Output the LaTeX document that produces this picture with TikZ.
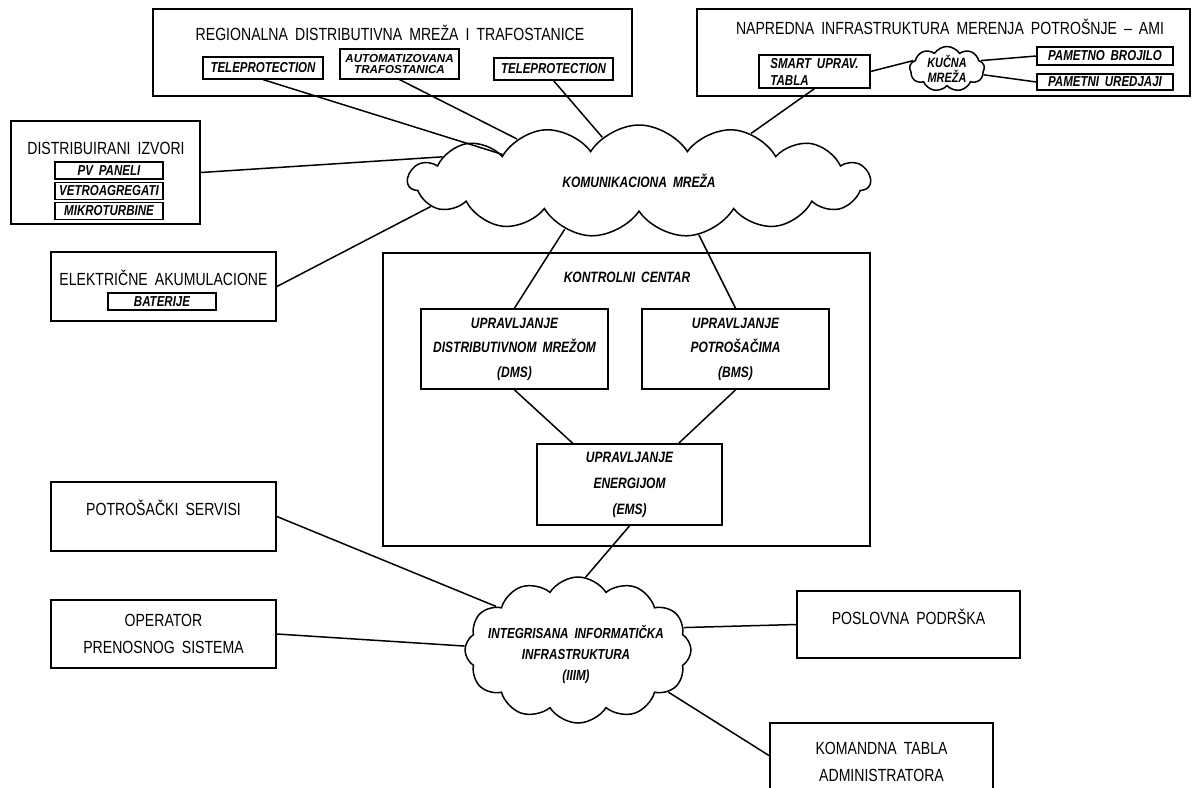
\documentclass[tikz,border=0pt]{standalone}
\usepackage{fontspec}
\setmainfont{Liberation Sans}[FakeStretch=0.8,WordSpace=1.8]
\usetikzlibrary{
	shapes.symbols,
	positioning
	}
\tikzset{font={\fontsize{8.8pt}{13.5}\selectfont}}
\tikzset{
	box/.style={draw, line width=0.9pt, inner sep=0pt},
	subbox/.style={draw, line width=0.6pt, inner sep=0pt, font={\fontsize{7.2pt}{7}\selectfont\bfseries\itshape}},
	net/.style={cloud, draw, line width=0.75pt, cloud ignores aspect, cloud puff arc=115, inner sep=0pt},
	lbl/.style={align=center, font={\fontsize{7.5pt}{12.25}\selectfont\bfseries\itshape}},
	link/.style={line width=0.75pt}
	}

\begin{document}
\begin{tikzpicture}[x=0.5pt, y=-0.5pt]
                \useasboundingbox (0,0) rectangle (1192,787);
                % regionalna mreza
                \node (reg) [box, minimum width=239.5pt, minimum height=43.5pt] at (392.5,52.5) {};
                \node (regt) at (390,33) {REGIONALNA DISTRIBUTIVNA MREŽA I TRAFOSTANICE};
                \node (tp1) [subbox, minimum width=60pt, minimum height=11pt] at (263,68) {TELEPROTECTION};
                \node (ats) [subbox, minimum width=59.5pt, minimum height=15pt, align=center, font={\fontsize{5.8pt}{5.6}\selectfont\bfseries\itshape}] at (399.5,64) {\scalebox{1.25}[1]{AUTOMATIZOVANA}\\\scalebox{1.25}[1]{TRAFOSTANICA}};
                \node (tp2) [subbox, minimum width=59.5pt, minimum height=11pt] at (553.5,69) {TELEPROTECTION};
                % AMI
                \node (ami) [box, minimum width=246.5pt, minimum height=43.5pt] at (943.5,52.5) {};
                \node (amit) at (950,27) {NAPREDNA INFRASTRUKTURA MERENJA POTROŠNJE -- AMI};
                \node (smart) [subbox, minimum width=55.5pt, minimum height=16.5pt, align=left, font={\fontsize{7.2pt}{8.5}\selectfont\bfseries\itshape}] at (814.5,71.5) {SMART UPRAV.\\TABLA};
                \node (kucna) [net, minimum width=37.5pt, minimum height=22.5pt, cloud puffs=9] at (947,69) {};
                \node (kucnat) [align=center, font={\fontsize{6.8pt}{7.5}\selectfont\bfseries\itshape}] at (kucna) {KUČNA\\MREŽA};
                \node (brojilo) [subbox, minimum width=68pt, minimum height=9pt] at (1105,56) {PAMETNO BROJILO};
                \node (uredjaji) [subbox, minimum width=68pt, minimum height=8pt] at (1105,82) {PAMETNI UREDJAJI};
                % izvori
                \node (dist) [box, minimum width=94.5pt, minimum height=51.5pt] at (105.5,172.5) {};
                \node (distt) at (106,148) {DISTRIBUIRANI IZVORI};
                \node (pv) [subbox, minimum width=54pt, minimum height=8.5pt] at (109,170.5) {PV PANELI};
                \node (vetro) [subbox, minimum width=54pt, minimum height=8.5pt, below=1pt of pv] {VETROAGREGATI};
                \node (mikro) [subbox, minimum width=54pt, minimum height=8.5pt, below=1pt of vetro] {MIKROTURBINE};
                \node (ele) [box, minimum width=112.5pt, minimum height=34.5pt] at (163.5,286.5) {};
                \node (elet) at (163.5,278) {ELEKTRIČNE AKUMULACIONE};
                \node (bat) [subbox, minimum width=54pt, minimum height=8.5pt] at (162,301.5) {BATERIJE};
                % komunikaciona mreza
                \node (kom) [net, lbl, minimum width=231pt, minimum height=56pt, cloud puffs=15] at (639,181) {KOMUNIKACIONA MREŽA};
                % kontrolni centar
                \node (kc) [box, minimum width=243.5pt, minimum height=146.5pt] at (626.5,399.5) {};
                \node (kct) [lbl] at (627,277) {KONTROLNI CENTAR};
                \node (dms) [box, lbl, minimum width=93.5pt, minimum height=40pt] at (514.5,349) {UPRAVLJANJE\\DISTRIBUTIVNOM MREŽOM\\(DMS)};
                \node (bms) [box, lbl, minimum width=93.5pt, minimum height=40pt] at (735.5,349) {UPRAVLJANJE\\POTROŠAČIMA\\(BMS)};
                \node (ems) [box, lbl, minimum width=92.5pt, minimum height=40.5pt, font={\fontsize{7.5pt}{13}\selectfont\bfseries\itshape}] at (629.5,484.5) {UPRAVLJANJE\\ENERGIJOM\\(EMS)};
                % IIIM
                \node (iiim) [net, minimum width=113pt, minimum height=73pt, cloud puffs=12] at (578,650) {};
                \node (iiimt) [lbl, font={\fontsize{7.3pt}{10.5}\selectfont\bfseries\itshape}] at (576,654) {INTEGRISANA INFORMATIČKA\\INFRASTRUKTURA\\(IIIM)};
                \node (pot) [box, minimum width=112.5pt, minimum height=34.5pt] at (163.5,516.5) {};
                \node (pott) at (163.5,508) {POTROŠAČKI SERVISI};
                \node (op) [box, align=center, minimum width=112.5pt, minimum height=34pt] at (163.5,634) {OPERATOR\\PRENOSNOG SISTEMA};
                \node (pos) [box, minimum width=111.5pt, minimum height=33.5pt] at (908.5,624.5) {};
                \node (post) at (908.5,617) {POSLOVNA PODRŠKA};
                \node (kt) [box, align=center, minimum width=111.5pt, minimum height=38.5pt] at (881.5,761.5) {KOMANDNA TABLA\\ADMINISTRATORA};
                % veze
                \draw[link] (tp1.south) -- (kom.169);
                \draw[link] (ats.south) -- (kom.161);
                \draw[link] (tp2.south) -- (kom.130);
                \draw[link] (smart.south) -- (kom.23);
                \draw[link] (dist.east) -- (kom.173);
                \draw[link] (ele.east) -- (kom.187);
                \draw[link] (kom.213) -- (dms.north);
                \draw[link] (kom.318) -- (bms.north);
                \draw[link] (dms.south) -- (ems.144);
                \draw[link] (bms.south) -- (ems.40);
                \draw[link] (ems.south) -- (iiim.84);
                \draw[link] (pot.east) -- (iiim.152);
                \draw[link] (op.east) -- (iiim.178);
                \draw[link] (iiim.12) -- (pos.west);
                \draw[link] (iiim.335) -- (kt.177);
                \draw[link] (smart.east) -- (kucna.166);
                \draw[link] (kucna.14) -- (brojilo.west);
                \draw[link] (kucna.351) -- (uredjaji.west);
            \end{tikzpicture}
\end{document}
